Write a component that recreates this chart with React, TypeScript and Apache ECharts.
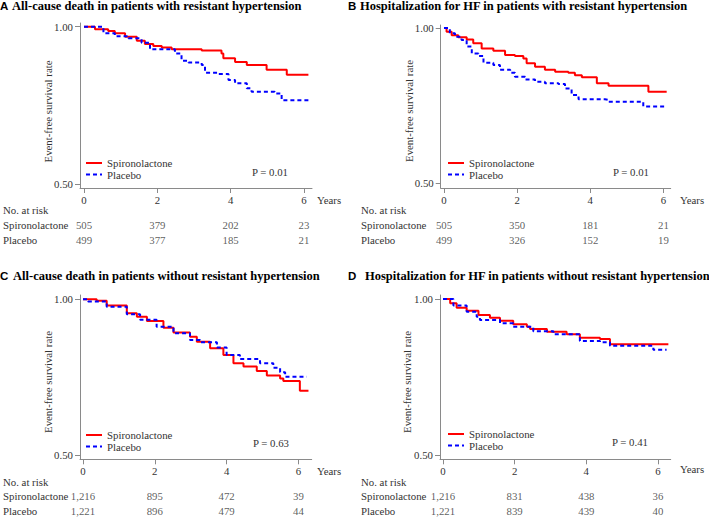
import React, { useEffect, useRef } from "react";
import * as echarts from "echarts";

// ---------- data ----------
const panelLetters = ["A", "B", "C", "D"];
const panelTitles = [
  "All-cause death in patients with resistant hypertension",
  "Hospitalization for HF in patients with resistant hypertension",
  "All-cause death in patients without resistant hypertension",
  "Hospitalization for HF in patients without resistant hypertension",
];
const pValues = ["P = 0.01", "P = 0.01", "P = 0.63", "P = 0.41"];
const groupNames = ["Spironolactone", "Placebo"];
const xTicks = [0, 2, 4, 6];
const yTicks = [0.5, 1.0];

// Kaplan-Meier curves: [years, survival]
const aSpiro: [number, number][] = [
  [0, 1], [0.3, 0.992], [0.66, 0.986], [0.84, 0.979], [1.12, 0.968], [1.44, 0.955],
  [1.66, 0.945], [1.89, 0.939], [2.12, 0.934], [2.39, 0.928], [3.21, 0.924],
  [3.75, 0.915], [3.8, 0.9], [4.12, 0.888], [4.44, 0.878], [4.98, 0.863],
  [5.53, 0.847], [6.12, 0.847],
];
const aPlacebo: [number, number][] = [
  [0, 1], [0.53, 0.979], [0.84, 0.97], [1.21, 0.963], [1.57, 0.949], [1.8, 0.928],
  [2.48, 0.915], [2.66, 0.892], [2.85, 0.886], [3.21, 0.878], [3.3, 0.854],
  [3.66, 0.85], [3.94, 0.831], [4.12, 0.82], [4.44, 0.804], [4.57, 0.793],
  [5.2, 0.788], [5.39, 0.766], [6.12, 0.766],
];
const bSpiro: [number, number][] = [
  [0, 1], [0.07, 0.988], [0.21, 0.977], [0.39, 0.97], [0.62, 0.963], [0.8, 0.951],
  [1.03, 0.934], [1.35, 0.927], [1.67, 0.913], [1.94, 0.91], [2.17, 0.902],
  [2.26, 0.886], [2.49, 0.875], [2.76, 0.865], [3.04, 0.859], [3.4, 0.856],
  [3.58, 0.848], [3.77, 0.841], [4.18, 0.822], [4.5, 0.814], [5.59, 0.794],
  [6.09, 0.794],
];
const bPlacebo: [number, number][] = [
  [0, 1], [0.16, 0.983], [0.3, 0.972], [0.48, 0.961], [0.62, 0.94], [0.76, 0.918],
  [0.94, 0.91], [1.08, 0.888], [1.35, 0.881], [1.53, 0.865], [1.81, 0.856],
  [1.94, 0.843], [2.22, 0.834], [2.49, 0.827], [2.76, 0.822], [3.13, 0.819],
  [3.31, 0.805], [3.49, 0.784], [3.68, 0.77], [4.4, 0.768], [4.5, 0.762],
  [5.45, 0.747], [6.09, 0.747],
];
const cSpiro: [number, number][] = [
  [0, 1], [0.38, 0.995], [0.66, 0.98], [1.22, 0.955], [1.5, 0.944], [1.78, 0.93],
  [2.24, 0.909], [2.52, 0.893], [2.98, 0.88], [3.17, 0.864], [3.54, 0.843],
  [3.91, 0.821], [4.19, 0.795], [4.47, 0.784], [4.84, 0.77], [5.12, 0.755],
  [5.49, 0.746], [5.58, 0.738], [6.04, 0.706], [6.28, 0.706],
];
const cPlacebo: [number, number][] = [
  [0, 1], [0.14, 0.993], [0.66, 0.976], [1.22, 0.952], [1.59, 0.934], [2.05, 0.912],
  [2.52, 0.891], [2.98, 0.869], [3.26, 0.862], [3.73, 0.845], [4.0, 0.821],
  [4.37, 0.808], [4.93, 0.795], [5.3, 0.78], [5.49, 0.766], [5.63, 0.751],
  [6.23, 0.751],
];
const dSpiro: [number, number][] = [
  [0, 1], [0.2, 0.986], [0.38, 0.972], [0.66, 0.962], [0.99, 0.949], [1.31, 0.94],
  [1.59, 0.93], [1.96, 0.919], [2.34, 0.911], [2.43, 0.904], [2.9, 0.895],
  [3.45, 0.887], [3.82, 0.876], [4.38, 0.872], [4.66, 0.855], [6.29, 0.855],
];
const dPlacebo: [number, number][] = [
  [0, 1], [0.29, 0.979], [0.66, 0.959], [0.94, 0.943], [1.03, 0.933], [1.59, 0.922],
  [1.96, 0.911], [2.52, 0.897], [3.08, 0.887], [3.82, 0.865], [4.38, 0.861],
  [4.66, 0.85], [5.87, 0.837], [6.24, 0.837],
];
const curves = [
  [aSpiro, aPlacebo],
  [bSpiro, bPlacebo],
  [cSpiro, cPlacebo],
  [dSpiro, dPlacebo],
];

// Number at risk at 0, 2, 4, 6 years
const riskSpiro = [
  [505, 379, 202, 23],
  [505, 350, 181, 21],
  [1216, 895, 472, 39],
  [1216, 831, 438, 36],
];
const riskPlacebo = [
  [499, 377, 185, 21],
  [499, 326, 152, 19],
  [1221, 896, 479, 44],
  [1221, 839, 439, 40],
];

// ---------- layout ----------
const layouts = [
  { gx0: 80, gx1: 312, xmin: -0.109, xmax: 6.218, gy0: 23, gy1: 188, ymin: 0.4873, ymax: 1.0118,
    rTop: 217.5, rH: 30, letterX: 0, titleX: 12, titleY: 5.5, noRiskY: 210, rowLabelX: 3,
    ylabX: 48, ylabY: 111.5, yearsX: 317, yearsY: 200, pX: 252, pY: 172, legX: 86, legY: 163 },
  { gx0: 440.7, gx1: 670.7, xmin: -0.09, xmax: 6.2, gy0: 25, gy1: 188, ymin: 0.4839, ymax: 1.0097,
    rTop: 217.5, rH: 30, letterX: 348, titleX: 360, titleY: 5.5, noRiskY: 210, rowLabelX: 361,
    ylabX: 409, ylabY: 111, yearsX: 680, yearsY: 200, pX: 613, pY: 172, legX: 448, legY: 163 },
  { gx0: 80, gx1: 311.7, xmin: -0.084, xmax: 6.37, gy0: 295, gy1: 459.3, ymin: 0.4862, ymax: 1.0138,
    rTop: 489, rH: 31.2, letterX: 0, titleX: 13, titleY: 276, noRiskY: 481.7, rowLabelX: 3,
    ylabX: 48, ylabY: 382, yearsX: 317, yearsY: 471, pX: 253, pY: 443, legX: 86, legY: 435 },
  { gx0: 440, gx1: 670.7, xmin: -0.084, xmax: 6.355, gy0: 295, gy1: 459.3, ymin: 0.4862, ymax: 1.0128,
    rTop: 489.3, rH: 32, letterX: 348, titleX: 365, titleY: 276, noRiskY: 481.7, rowLabelX: 361,
    ylabX: 407, ylabY: 382, yearsX: 680, yearsY: 469, pX: 612, pY: 442.3, legX: 448, legY: 434 },
];

const SERIF = "'Liberation Serif', 'Times New Roman', serif";
const SANS = "'Liberation Sans', Arial, sans-serif";
const FS = 10.8;
const TXT = "#333333";
const AXIS = "#8a8a8a";
const RED = "#ff0000";
const BLUE = "#0000ff";
const LEG_ROW = 11.5;

function buildOption() {
  const grid: any[] = [];
  const xAxis: any[] = [];
  const yAxis: any[] = [];
  const series: any[] = [];
  const graphic: any[] = [];

  layouts.forEach((L, p) => {
    grid.push({ left: L.gx0, top: L.gy0, width: L.gx1 - L.gx0, height: L.gy1 - L.gy0, containLabel: false });
    grid.push({ left: L.gx0, top: L.rTop, width: L.gx1 - L.gx0, height: L.rH, containLabel: false });
    const gMain = p * 2;
    const gRisk = p * 2 + 1;

    xAxis.push({
      type: "value", gridIndex: gMain, min: L.xmin, max: L.xmax,
      splitLine: { show: false },
      axisLine: { show: true, onZero: false, lineStyle: { color: AXIS, width: 1 } },
      axisTick: { show: true, length: 5, customValues: xTicks, lineStyle: { color: AXIS } },
      axisLabel: { show: true, customValues: xTicks, margin: 6, color: TXT, fontFamily: SERIF, fontSize: FS },
    });
    yAxis.push({
      type: "value", gridIndex: gMain, min: L.ymin, max: L.ymax,
      splitLine: { show: false },
      axisLine: { show: true, onZero: false, lineStyle: { color: AXIS, width: 1 } },
      axisTick: { show: true, length: 5, customValues: yTicks, lineStyle: { color: AXIS } },
      axisLabel: {
        show: true, customValues: yTicks, margin: 7, color: TXT, fontFamily: SERIF, fontSize: FS,
        formatter: (v: number) => v.toFixed(2),
      },
    });
    xAxis.push({ type: "value", gridIndex: gRisk, min: L.xmin, max: L.xmax, show: false });
    yAxis.push({
      type: "category", gridIndex: gRisk, data: groupNames, inverse: true,
      axisLine: { show: false }, axisTick: { show: false }, splitLine: { show: false },
      axisLabel: {
        show: true, align: "left", margin: L.gx0 - L.rowLabelX,
        color: TXT, fontFamily: SERIF, fontSize: FS,
      },
    });

    curves[p].forEach((data, k) => {
      series.push({
        type: "line", name: groupNames[k], xAxisIndex: gMain, yAxisIndex: gMain,
        data, step: "end", symbol: "none", silent: true, z: k === 0 ? 3 : 4,
        lineStyle: k === 0
          ? { color: RED, width: 2, type: "solid" }
          : { color: BLUE, width: 2, type: [4, 3] },
        itemStyle: { color: k === 0 ? RED : BLUE },
      });
    });

    const riskData: any[] = [];
    xTicks.forEach((t, i) => {
      riskData.push([t, groupNames[0], riskSpiro[p][i]]);
      riskData.push([t, groupNames[1], riskPlacebo[p][i]]);
    });
    series.push({
      type: "scatter", name: "risk" + p, xAxisIndex: gRisk, yAxisIndex: gRisk,
      data: riskData, symbolSize: 1, silent: true,
      itemStyle: { color: "rgba(0,0,0,0)" },
      label: {
        show: true, position: "inside", color: TXT, fontFamily: SERIF, fontSize: FS,
        formatter: (q: any) => Number(q.value[2]).toLocaleString("en-US"),
      },
    });

    // legend (drawn as swatches + text)
    groupNames.forEach((nm, k) => {
      const yy = L.legY + k * LEG_ROW;
      graphic.push({
        type: "line", silent: true,
        shape: { x1: L.legX, y1: yy, x2: L.legX + 16, y2: yy },
        style: k === 0
          ? { stroke: RED, lineWidth: 2 }
          : { stroke: BLUE, lineWidth: 2, lineDash: [4, 3] },
      });
      graphic.push({
        type: "text", x: L.legX + 21, y: yy,
        style: { text: nm, fontFamily: SERIF, fontSize: FS, fill: TXT, verticalAlign: "middle" },
      });
    });

    graphic.push({
      type: "text", x: L.letterX, y: L.titleY,
      style: { text: panelLetters[p], fontFamily: SANS, fontWeight: "bold", fontSize: 11.5, fill: "#000", verticalAlign: "middle" },
    });
    graphic.push({
      type: "text", x: L.titleX, y: L.titleY,
      style: { text: panelTitles[p], fontFamily: SERIF, fontWeight: "bold", fontSize: 12.5, fill: "#000", verticalAlign: "middle" },
    });
    graphic.push({
      type: "text", x: L.ylabX, y: L.ylabY, rotation: Math.PI / 2,
      style: { text: "Event-free survival rate", fontFamily: SERIF, fontSize: FS, fill: TXT, align: "center", verticalAlign: "middle" },
    });
    graphic.push({
      type: "text", x: L.yearsX, y: L.yearsY,
      style: { text: "Years", fontFamily: SERIF, fontSize: FS, fill: TXT, verticalAlign: "middle" },
    });
    graphic.push({
      type: "text", x: L.pX, y: L.pY,
      style: { text: pValues[p], fontFamily: SERIF, fontSize: FS, fill: TXT, verticalAlign: "middle" },
    });
    graphic.push({
      type: "text", x: L.rowLabelX, y: L.noRiskY,
      style: { text: "No. at risk", fontFamily: SERIF, fontSize: FS, fill: TXT, verticalAlign: "middle" },
    });
  });

  return {
    animation: false,
    backgroundColor: "#ffffff",
    grid, xAxis, yAxis, series, graphic,
  };
}

export default function App() {
  const ref = useRef<HTMLDivElement>(null);
  useEffect(() => {
    if (!ref.current) return;
    const chart = echarts.init(ref.current, undefined, { renderer: "svg" });
    chart.setOption(buildOption() as any);
    return () => chart.dispose();
  }, []);
  return <div ref={ref} style={{ width: 709, height: 518, position: "absolute", left: 0, top: 0 }} />;
}
